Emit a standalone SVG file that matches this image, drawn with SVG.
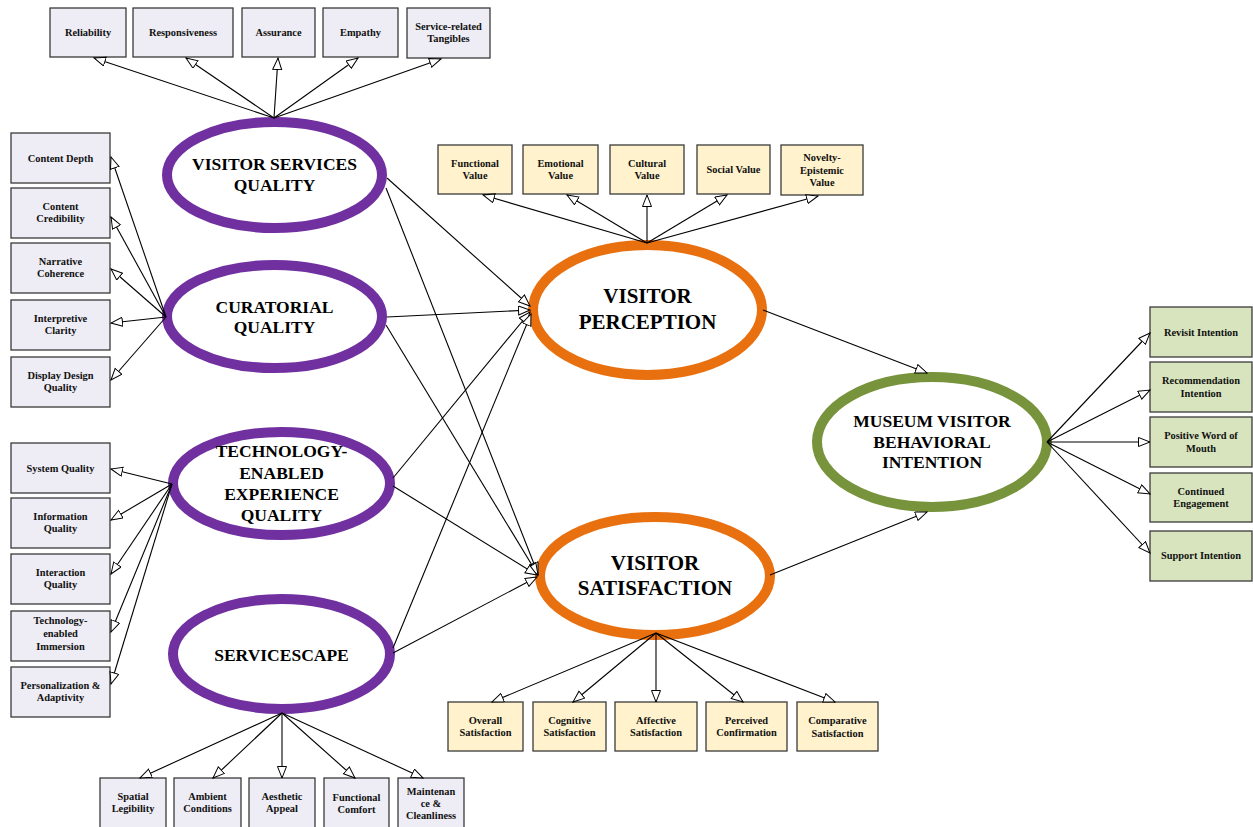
<svg xmlns="http://www.w3.org/2000/svg" width="1253" height="827" viewBox="0 0 1253 827">
<style>
.bl{fill:#EEECF4;stroke:#3a3a3a;stroke-width:1.3}
.by{fill:#FFF2CC;stroke:#3a3a3a;stroke-width:1.3}
.bg{fill:#D8E4BD;stroke:#3a3a3a;stroke-width:1.3}
.t{font-family:"Liberation Serif","Times New Roman",serif;font-weight:bold;font-size:10.4px;fill:#111;text-anchor:middle}
.et{font-family:"Liberation Serif","Times New Roman",serif;font-weight:bold;fill:#000;text-anchor:middle}
.ep{fill:#fff;stroke:#7030A0;stroke-width:10}
.eo{fill:#fff;stroke:#E8700F;stroke-width:10}
.eg{fill:#fff;stroke:#77933C;stroke-width:10}
.c line{stroke:#000;stroke-width:1.1;marker-end:url(#ah)}
</style>
<defs>
<marker id="ah" markerUnits="userSpaceOnUse" markerWidth="14" markerHeight="12" refX="12" refY="5" orient="auto">
<path d="M0.5,0.5 L12,5 L0.5,9.5 z" fill="#fff" stroke="#000" stroke-width="1"/>
</marker>
</defs>
<rect width="1253" height="827" fill="#fff"/>

<!-- top boxes -->
<g id="reliability"><rect class="bl" x="50" y="8" width="76" height="49"/><text class="t" x="88" y="36">Reliability</text></g>
<g id="responsiveness"><rect class="bl" x="133" y="8" width="100" height="49"/><text class="t" x="183" y="36">Responsiveness</text></g>
<g id="assurance"><rect class="bl" x="242" y="8" width="73" height="49"/><text class="t" x="278.5" y="36">Assurance</text></g>
<g id="empathy"><rect class="bl" x="323" y="8" width="75" height="49"/><text class="t" x="360.5" y="36">Empathy</text></g>
<g id="tangibles"><rect class="bl" x="407" y="8" width="83" height="50"/><text class="t" x="448.5" y="30">Service-related</text><text class="t" x="448.5" y="42">Tangibles</text></g>

<!-- left curatorial boxes -->
<g id="content-depth"><rect class="bl" x="11" y="133" width="99" height="50"/><text class="t" x="60.5" y="161.5">Content Depth</text></g>
<g id="content-credibility"><rect class="bl" x="11" y="188" width="99" height="50"/><text class="t" x="60.5" y="210">Content</text><text class="t" x="60.5" y="222">Credibility</text></g>
<g id="narrative-coherence"><rect class="bl" x="11" y="243" width="99" height="50"/><text class="t" x="60.5" y="265">Narrative</text><text class="t" x="60.5" y="277">Coherence</text></g>
<g id="interpretive-clarity"><rect class="bl" x="11" y="300" width="99" height="50"/><text class="t" x="60.5" y="322">Interpretive</text><text class="t" x="60.5" y="334">Clarity</text></g>
<g id="display-design"><rect class="bl" x="11" y="357" width="99" height="50"/><text class="t" x="60.5" y="379">Display Design</text><text class="t" x="60.5" y="391">Quality</text></g>

<!-- left tech boxes -->
<g id="system-quality"><rect class="bl" x="11" y="443" width="99" height="50"/><text class="t" x="60.5" y="471.5">System Quality</text></g>
<g id="information-quality"><rect class="bl" x="11" y="498" width="99" height="50"/><text class="t" x="60.5" y="520">Information</text><text class="t" x="60.5" y="532">Quality</text></g>
<g id="interaction-quality"><rect class="bl" x="11" y="554" width="99" height="50"/><text class="t" x="60.5" y="576">Interaction</text><text class="t" x="60.5" y="588">Quality</text></g>
<g id="immersion"><rect class="bl" x="11" y="611" width="99" height="50"/><text class="t" x="60.5" y="624">Technology-</text><text class="t" x="60.5" y="637">enabled</text><text class="t" x="60.5" y="650">Immersion</text></g>
<g id="personalization"><rect class="bl" x="11" y="667" width="99" height="50"/><text class="t" x="60.5" y="689">Personalization &amp;</text><text class="t" x="60.5" y="701">Adaptivity</text></g>

<!-- bottom servicescape boxes -->
<g id="spatial"><rect class="bl" x="100" y="778" width="66" height="50"/><text class="t" x="133" y="800">Spatial</text><text class="t" x="133" y="812">Legibility</text></g>
<g id="ambient"><rect class="bl" x="174" y="778" width="67" height="50"/><text class="t" x="207.5" y="800">Ambient</text><text class="t" x="207.5" y="812">Conditions</text></g>
<g id="aesthetic"><rect class="bl" x="249" y="778" width="66" height="50"/><text class="t" x="282" y="800">Aesthetic</text><text class="t" x="282" y="812">Appeal</text></g>
<g id="functional-comfort"><rect class="bl" x="324" y="778" width="65" height="50"/><text class="t" x="356.5" y="801">Functional</text><text class="t" x="356.5" y="813">Comfort</text></g>
<g id="maintenance"><rect class="bl" x="398" y="778" width="66" height="50"/><text class="t" x="431" y="795">Maintenan</text><text class="t" x="431" y="807">ce &amp;</text><text class="t" x="431" y="819">Cleanliness</text></g>

<!-- value boxes -->
<g id="functional-value"><rect class="by" x="438" y="145" width="74" height="49"/><text class="t" x="475" y="167">Functional</text><text class="t" x="475" y="179">Value</text></g>
<g id="emotional-value"><rect class="by" x="523" y="145" width="75" height="49"/><text class="t" x="560.5" y="167">Emotional</text><text class="t" x="560.5" y="179">Value</text></g>
<g id="cultural-value"><rect class="by" x="610" y="145" width="74" height="49"/><text class="t" x="647" y="167">Cultural</text><text class="t" x="647" y="179">Value</text></g>
<g id="social-value"><rect class="by" x="697" y="145" width="73" height="49"/><text class="t" x="733.5" y="173">Social Value</text></g>
<g id="novelty-value"><rect class="by" x="781" y="145" width="82" height="50"/><text class="t" x="822" y="161">Novelty-</text><text class="t" x="822" y="174">Epistemic</text><text class="t" x="822" y="186">Value</text></g>

<!-- satisfaction boxes -->
<g id="overall-sat"><rect class="by" x="448" y="702" width="75" height="49"/><text class="t" x="485.5" y="724">Overall</text><text class="t" x="485.5" y="736">Satisfaction</text></g>
<g id="cognitive-sat"><rect class="by" x="533" y="702" width="73" height="49"/><text class="t" x="569.5" y="724">Cognitive</text><text class="t" x="569.5" y="736">Satisfaction</text></g>
<g id="affective-sat"><rect class="by" x="615" y="702" width="82" height="49"/><text class="t" x="656" y="724">Affective</text><text class="t" x="656" y="736">Satisfaction</text></g>
<g id="perceived-conf"><rect class="by" x="706" y="702" width="81" height="49"/><text class="t" x="746.5" y="724">Perceived</text><text class="t" x="746.5" y="736">Confirmation</text></g>
<g id="comparative-sat"><rect class="by" x="797" y="702" width="81" height="49"/><text class="t" x="837.5" y="724">Comparative</text><text class="t" x="837.5" y="737">Satisfaction</text></g>

<!-- intention boxes -->
<g id="revisit"><rect class="bg" x="1150" y="307" width="102" height="50"/><text class="t" x="1201" y="335.5">Revisit Intention</text></g>
<g id="recommendation"><rect class="bg" x="1150" y="362" width="102" height="50"/><text class="t" x="1201" y="384">Recommendation</text><text class="t" x="1201" y="397">Intention</text></g>
<g id="wom"><rect class="bg" x="1150" y="417" width="102" height="50"/><text class="t" x="1201" y="439">Positive Word of</text><text class="t" x="1201" y="452">Mouth</text></g>
<g id="continued"><rect class="bg" x="1150" y="473" width="102" height="49"/><text class="t" x="1201" y="495">Continued</text><text class="t" x="1201" y="507">Engagement</text></g>
<g id="support"><rect class="bg" x="1150" y="531" width="102" height="50"/><text class="t" x="1201" y="559">Support Intention</text></g>

<!-- latent constructs -->
<g id="visitor-services-quality"><ellipse class="ep" cx="274.5" cy="175" rx="107.5" ry="53"/><text class="et" font-size="17.5" x="274.5" y="170">VISITOR SERVICES</text><text class="et" font-size="17.5" x="274.5" y="191">QUALITY</text></g>
<g id="curatorial-quality"><ellipse class="ep" cx="274.5" cy="316.5" rx="107.5" ry="51.5"/><text class="et" font-size="17.5" x="274.5" y="313">CURATORIAL</text><text class="et" font-size="17.5" x="274.5" y="333">QUALITY</text></g>
<g id="tech-quality"><ellipse class="ep" cx="281.5" cy="483.5" rx="108.5" ry="51.5"/><text class="et" font-size="17.5" x="281.5" y="457">TECHNOLOGY-</text><text class="et" font-size="17.5" x="281.5" y="479">ENABLED</text><text class="et" font-size="17.5" x="281.5" y="500">EXPERIENCE</text><text class="et" font-size="17.5" x="281.5" y="521">QUALITY</text></g>
<g id="servicescape"><ellipse class="ep" cx="281.5" cy="654" rx="108.5" ry="55"/><text class="et" font-size="17.5" x="281.5" y="661">SERVICESCAPE</text></g>
<g id="visitor-perception"><ellipse class="eo" cx="647.5" cy="310" rx="114.5" ry="65"/><text class="et" font-size="21" x="647.5" y="303">VISITOR</text><text class="et" font-size="21" x="647.5" y="329">PERCEPTION</text></g>
<g id="visitor-satisfaction"><ellipse class="eo" cx="655" cy="576" rx="115" ry="59"/><text class="et" font-size="21" x="655" y="570">VISITOR</text><text class="et" font-size="21" x="655" y="595">SATISFACTION</text></g>
<g id="museum-intention"><ellipse class="eg" cx="932" cy="442" rx="115" ry="65"/><text class="et" font-size="17.5" x="932" y="427">MUSEUM VISITOR</text><text class="et" font-size="17.5" x="932" y="448">BEHAVIORAL</text><text class="et" font-size="17.5" x="932" y="468">INTENTION</text></g>

<g id="connectors" class="c">
<line x1="274" y1="118" x2="94" y2="58"/>
<line x1="274" y1="118" x2="186" y2="58"/>
<line x1="274" y1="118" x2="278" y2="58"/>
<line x1="274" y1="118" x2="358" y2="58"/>
<line x1="274" y1="118" x2="441" y2="59"/>

<line x1="166" y1="317" x2="111" y2="157"/>
<line x1="166" y1="317" x2="111" y2="217"/>
<line x1="166" y1="317" x2="111" y2="269"/>
<line x1="166" y1="317" x2="111" y2="323"/>
<line x1="166" y1="317" x2="111" y2="380"/>

<line x1="172" y1="484" x2="111" y2="469"/>
<line x1="172" y1="484" x2="111" y2="520"/>
<line x1="172" y1="484" x2="111" y2="574"/>
<line x1="172" y1="484" x2="111" y2="632"/>
<line x1="172" y1="484" x2="111" y2="684"/>

<line x1="282" y1="713" x2="140" y2="778"/>
<line x1="282" y1="713" x2="213" y2="778"/>
<line x1="282" y1="713" x2="282" y2="778"/>
<line x1="282" y1="713" x2="355" y2="778"/>
<line x1="282" y1="713" x2="423" y2="778"/>

<line x1="647" y1="243" x2="483" y2="195"/>
<line x1="647" y1="243" x2="567" y2="195"/>
<line x1="647" y1="243" x2="647" y2="195"/>
<line x1="647" y1="243" x2="727" y2="195"/>
<line x1="647" y1="243" x2="818" y2="196"/>

<line x1="656" y1="633" x2="492" y2="702"/>
<line x1="656" y1="633" x2="573" y2="702"/>
<line x1="656" y1="633" x2="656" y2="702"/>
<line x1="656" y1="633" x2="743" y2="702"/>
<line x1="656" y1="633" x2="835" y2="702"/>

<line x1="1047" y1="442" x2="1150" y2="333"/>
<line x1="1047" y1="442" x2="1150" y2="390"/>
<line x1="1047" y1="442" x2="1150" y2="442"/>
<line x1="1047" y1="442" x2="1150" y2="494"/>
<line x1="1047" y1="442" x2="1150" y2="553"/>

<line x1="387" y1="178" x2="530" y2="306"/>
<line x1="386" y1="188" x2="538" y2="574"/>
<line x1="387" y1="317" x2="530" y2="310"/>
<line x1="386" y1="325" x2="538" y2="575"/>
<line x1="393" y1="478" x2="530" y2="312"/>
<line x1="393" y1="486" x2="537" y2="575"/>
<line x1="393" y1="648" x2="531" y2="314"/>
<line x1="393" y1="653" x2="537" y2="577"/>
<line x1="763" y1="310" x2="927" y2="373"/>
<line x1="770" y1="575" x2="927" y2="512"/>
</g>
</svg>
